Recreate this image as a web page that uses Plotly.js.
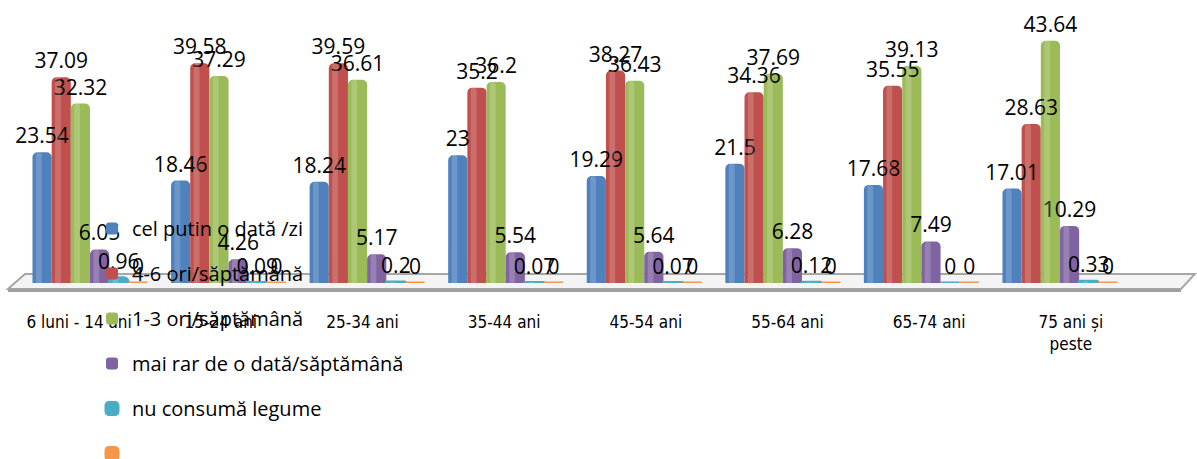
<!DOCTYPE html>
<html>
<head>
<meta charset="utf-8">
<script src="https://cdn.plot.ly/plotly-3.0.1.min.js"></script>
<style>
  html, body { margin: 0; padding: 0; background: #ffffff; }
  #chart { width: 1197px; height: 459px; }
</style>
</head>
<body>
<div id="chart"></div>
<script>
// Age groups (category axis)
const categories = [
  "6 luni - 14 ani", "15-24 ani", "25-34 ani", "35-44 ani",
  "45-54 ani", "55-64 ani", "65-74 ani", "75 ani și<br>peste"
];

// Frequency of vegetable consumption, % per age group
const seriesNames = [
  "cel putin o dată /zi",
  "4-6 ori/săptămână",
  "1-3 ori/săptămână",
  "mai rar de o dată/săptămână",
  "nu consumă legume",
  ""
];
const dailyValues     = [23.54, 18.46, 18.24, 23, 19.29, 21.5, 17.68, 17.01];
const fourSixValues   = [37.09, 39.58, 39.59, 35.2, 38.27, 34.36, 35.55, 28.63];
const oneThreeValues  = [32.32, 37.29, 36.61, 36.2, 36.43, 37.69, 39.13, 43.64];
const rarelyValues    = [6.05, 4.26, 5.17, 5.54, 5.64, 6.28, 7.49, 10.29];
const noneValues      = [0.96, 0.09, 0.2, 0.07, 0.07, 0.12, 0, 0.33];
const blankValues     = [0, 0, 0, 0, 0, 0, 0, 0];

const seriesValues = [dailyValues, fourSixValues, oneThreeValues, rarelyValues, noneValues, blankValues];
const seriesColors = ["#4F81BD", "#C0504D", "#9BBB59", "#8064A2", "#4BACC6", "#F79646"];

const W = 1197, H = 459;
const px = x => x / W;
const py = y => (H - y) / H;

const BARGAP = 0.17;
const slot = (1 - BARGAP) / seriesValues.length;   // width of one cylinder, category units

// Coloured cylinders (bars) with legend entries
const barTraces = seriesValues.map((vals, i) => ({
  type: "bar",
  name: seriesNames[i],
  legendgroup: "g" + i,
  x: categories,
  y: vals,
  xaxis: "x",
  yaxis: "y",
  marker: {
    color: seriesColors[i],
    cornerradius: 5,
    line: { color: seriesColors[i], width: i >= 4 ? 3 : 0 }
  },
  hoverinfo: "skip"
}));

// Soft light band on the left of each cylinder for a rounded look
const shineTraces = seriesValues.map((vals, i) => ({
  type: "bar",
  showlegend: false,
  x: categories,
  y: vals,
  xaxis: "x4",
  yaxis: "y",
  width: slot * 0.3,
  offset: -(1 - BARGAP) / 2 + i * slot + slot * 0.18,
  marker: { color: "rgba(255,255,255,0.18)", cornerradius: 3, line: { width: 0 } },
  hoverinfo: "skip"
}));

// Same values again on an overlaying axis, transparent, so the value
// labels are painted above every cylinder
const labelTraces = seriesValues.map((vals, i) => ({
  type: "bar",
  name: seriesNames[i],
  showlegend: false,
  x: categories,
  y: vals,
  xaxis: "x3",
  yaxis: "y",
  marker: { color: "rgba(0,0,0,0)", line: { width: 0 } },
  text: vals.map(v => String(v)),
  texttemplate: "%{text}",
  textposition: "outside",
  constraintext: "none",
  cliponaxis: false,
  textfont: { family: "Open Sans", size: 21, color: "#000000" },
  hoverinfo: "skip"
}));

// Invisible trace that carries the category labels on the label axis
const tickTrace = {
  type: "scatter",
  mode: "markers",
  x: categories,
  y: categories.map(() => 0),
  xaxis: "x2",
  yaxis: "y",
  marker: { opacity: 0, size: 1 },
  showlegend: false,
  hoverinfo: "skip"
};

// Floor slab under the cylinders
const floorTop = [[25, 274], [1195, 274], [1181, 289], [8, 289]];
const floorPath = "M" + floorTop.map(p => px(p[0]) + "," + py(p[1])).join(" L") + " Z";

const barAxis = {
  type: "category",
  domain: [0.0173, 0.9434],
  showticklabels: false,
  showgrid: false,
  zeroline: false,
  showline: false,
  fixedrange: true
};

const layout = {
  width: W,
  height: H,
  margin: { l: 0, r: 0, t: 0, b: 0, autoexpand: false },
  paper_bgcolor: "#ffffff",
  plot_bgcolor: "rgba(0,0,0,0)",
  font: { family: "Open Sans", size: 20, color: "#000000" },
  barmode: "group",
  bargap: BARGAP,
  bargroupgap: 0,
  showlegend: true,
  hovermode: false,
  xaxis: Object.assign({}, barAxis),
  xaxis4: Object.assign({}, barAxis, { anchor: "y", overlaying: "x" }),
  xaxis3: Object.assign({}, barAxis, { anchor: "y", overlaying: "x" }),
  xaxis2: {
    type: "category",
    domain: [0.0067, 0.9958],
    anchor: "y",
    overlaying: "x",
    automargin: false,
    showgrid: false,
    zeroline: false,
    showline: false,
    ticks: "",
    ticklabelstandoff: 27,
    tickfont: { family: "DejaVu Sans Condensed", size: 17, color: "#000000" },
    fixedrange: true
  },
  yaxis: {
    range: [0, 50],
    domain: [(H - 283) / H, (H - 5.5) / H],
    visible: false,
    fixedrange: true
  },
  legend: {
    x: px(92),
    xanchor: "left",
    y: py(209),
    yanchor: "top",
    bgcolor: "rgba(0,0,0,0)",
    borderwidth: 0,
    tracegroupgap: 16,
    traceorder: "grouped",
    font: { family: "Open Sans", size: 20, color: "#000000" }
  },
  shapes: [
    {
      type: "path",
      xref: "paper",
      yref: "paper",
      path: floorPath,
      fillcolor: "#f4f4f4",
      line: { color: "#a6a6a6", width: 2 },
      layer: "below"
    },
    {
      type: "line",
      xref: "paper",
      yref: "paper",
      x0: px(8), y0: py(290.5), x1: px(1181), y1: py(290.5),
      line: { color: "#a0a0a0", width: 3 },
      layer: "below"
    }
  ]
};

Plotly.newPlot("chart", barTraces.concat(shineTraces, labelTraces, [tickTrace]), layout,
  { staticPlot: true, displayModeBar: false });
</script>
</body>
</html>
